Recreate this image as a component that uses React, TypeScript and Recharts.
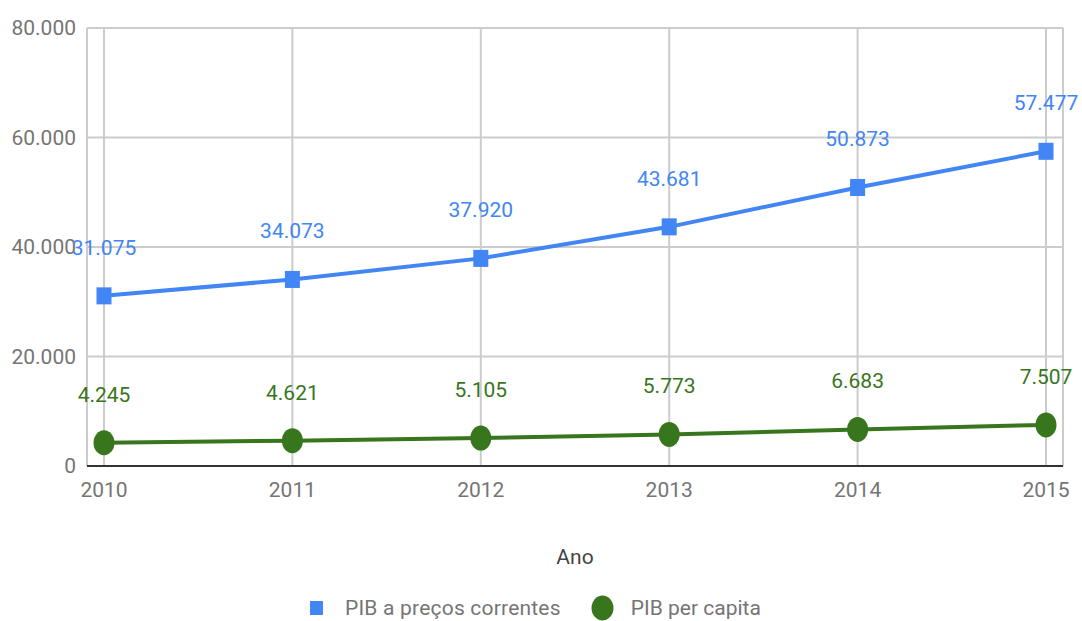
import { LineChart, Line, XAxis, YAxis, CartesianGrid, Legend, LabelList } from 'recharts'

const years = ['2010', '2011', '2012', '2013', '2014', '2015']
const pibCorrentes = [31075, 34073, 37920, 43681, 50873, 57477]
const pibPerCapita = [4245, 4621, 5105, 5773, 6683, 7507]
const yTicks = [0, 20000, 40000, 60000, 80000]

const BLUE = '#4285f4'
const GREEN = '#38761d'
const GRAY = '#757575'

const fmt = (v: number) => String(v).replace(/\B(?=(\d{3})+(?!\d))/g, '.')

const data = years.map((ano, i) => ({
  ano,
  correntes: pibCorrentes[i],
  perCapita: pibPerCapita[i],
}))

const SquareDot = (props: any) => {
  const { cx, cy } = props
  return <rect x={cx - 7.5} y={cy - 8.5} width={15} height={17} fill={BLUE} />
}

const CircleDot = (props: any) => {
  const { cx, cy } = props
  return <ellipse cx={cx} cy={cy} rx={10.5} ry={12.5} fill={GREEN} />
}

const makeLabel = (color: string) => (props: any) => {
  const { x, y, value } = props
  return (
    <text x={x} y={y - 48} fill={color} fontSize={21} textAnchor="middle" dominantBaseline="central">
      {fmt(value)}
    </text>
  )
}

const LegendContent = () => (
  <div style={{ display: 'flex', alignItems: 'center', paddingLeft: 310, fontSize: 21, color: GRAY }}>
    <svg width={14} height={14} style={{ marginRight: 21 }}>
      <rect x={0} y={0} width={13} height={14} fill={BLUE} />
    </svg>
    <span style={{ letterSpacing: 0.2 }}>PIB a preços correntes</span>
    <svg width={24} height={26} style={{ marginLeft: 30, marginRight: 16 }}>
      <ellipse cx={11.5} cy={13} rx={11} ry={12.5} fill={GREEN} />
    </svg>
    <span>PIB per capita</span>
  </div>
)

export default function App() {
  return (
    <div style={{ position: 'absolute', left: 0, top: 0, fontFamily: 'Roboto, sans-serif' }}>
      <LineChart width={1082} height={621} data={data} margin={{ top: 28, right: 19, left: 0, bottom: 45 }}>
        <CartesianGrid stroke="#cccccc" strokeWidth={2} />
        <XAxis
          dataKey="ano"
          padding={{ left: 17, right: 17 }}
          height={110}
          tickLine={false}
          tickMargin={10}
          axisLine={{ stroke: '#333333', strokeWidth: 2 }}
          tick={{ fill: GRAY, fontSize: 21 }}
          label={{ value: 'Ano', position: 'insideBottom', offset: 12, fill: '#444444', fontSize: 21 }}
        />
        <YAxis
          width={87}
          domain={[0, 80000]}
          ticks={yTicks}
          tickFormatter={fmt}
          axisLine={false}
          tickLine={false}
          tickMargin={5}
          tick={{ fill: GRAY, fontSize: 21 }}
        />
        <Legend
          layout="horizontal"
          verticalAlign="middle"
          align="center"
          content={<LegendContent />}
          wrapperStyle={{ top: 595, left: 0, width: 1082 }}
        />
        <Line
          dataKey="correntes"
          name="PIB a preços correntes"
          stroke={BLUE}
          strokeWidth={4}
          dot={<SquareDot />}
          isAnimationActive={false}
        >
          <LabelList dataKey="correntes" content={makeLabel(BLUE)} />
        </Line>
        <Line
          dataKey="perCapita"
          name="PIB per capita"
          stroke={GREEN}
          strokeWidth={4}
          dot={<CircleDot />}
          isAnimationActive={false}
        >
          <LabelList dataKey="perCapita" content={makeLabel(GREEN)} />
        </Line>
      </LineChart>
    </div>
  )
}
